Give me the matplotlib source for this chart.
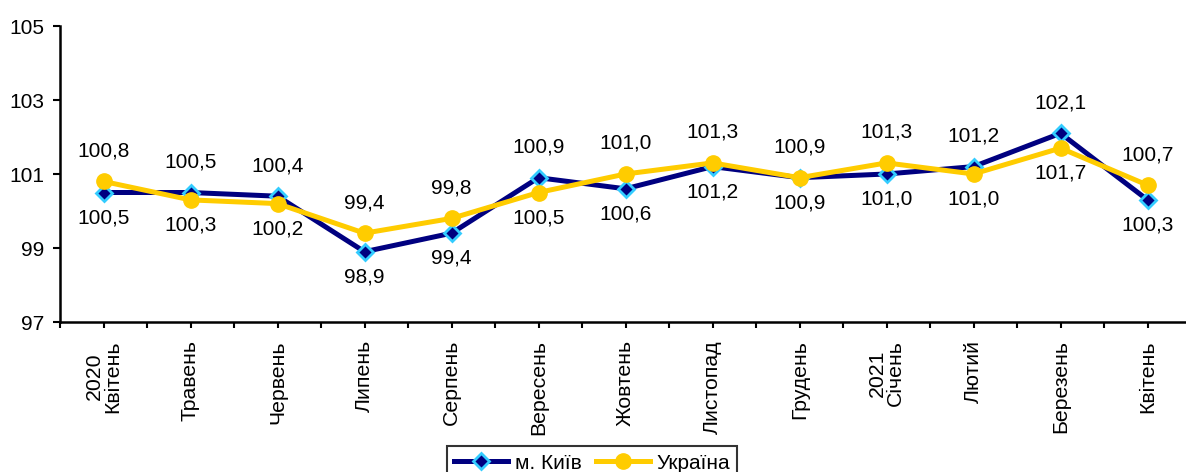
import matplotlib.pyplot as plt
import numpy as np

plt.rcParams['font.family'] = ['Liberation Sans', 'DejaVu Sans']

months = ['2020\nКвітень', 'Травень', 'Червень', 'Липень', 'Серпень', 'Вересень',
          'Жовтень', 'Листопад', 'Грудень', '2021\nСічень', 'Лютий', 'Березень', 'Квітень']
kyiv = [100.5, 100.5, 100.4, 98.9, 99.4, 100.9, 100.6, 101.2, 100.9, 101.0, 101.2, 102.1, 100.3]
ukraine = [100.8, 100.3, 100.2, 99.4, 99.8, 100.5, 101.0, 101.3, 100.9, 101.3, 101.0, 101.7, 100.7]

W, H = 1186, 472
fig = plt.figure(figsize=(W / 100, H / 100), dpi=100)
ax = fig.add_axes([60 / W, 150 / H, 1131 / W, 296 / H])

x = np.arange(len(months))
ax.plot(x, kyiv, color='#000080', lw=3.6, marker='D', ms=8.5,
        mfc='#000080', mec='#33CCFF', mew=2, label='м. Київ', zorder=3)
ax.plot(x, ukraine, color='#FFCC00', lw=3.6, marker='o', ms=11,
        mfc='#FFCC00', mec='#FFCC00', label='Україна', zorder=4)

# підписи: більше значення зверху, менше знизу
for i in range(len(x)):
    k, u = kyiv[i], ukraine[i]
    if k >= u:
        up, dn = k, u
    else:
        up, dn = u, k
    ax.annotate(f'{up:.1f}'.replace('.', ','), (x[i], up), xytext=(0, 22),
                textcoords='offset points', ha='center', va='center', fontsize=15)
    ax.annotate(f'{dn:.1f}'.replace('.', ','), (x[i], dn), xytext=(0, -18),
                textcoords='offset points', ha='center', va='center', fontsize=15)

ax.set_xlim(-0.5, 12.5)
ax.set_ylim(97, 105)
ax.set_yticks([97, 99, 101, 103, 105])
ax.set_xticks(x)
ax.set_xticklabels(months, rotation=90, fontsize=15.3, linespacing=0.95)
ax.set_xticks(np.arange(-0.5, 13, 1), minor=True)
ax.tick_params(axis='y', labelsize=15, direction='out', length=5, width=1.5, pad=6)
ax.tick_params(axis='x', which='both', direction='out', length=4, width=1.5, pad=9)

for s in ['top', 'right']:
    ax.spines[s].set_visible(False)
for s in ['left', 'bottom']:
    ax.spines[s].set_linewidth(1.8)

leg = fig.legend(loc='upper center', bbox_to_anchor=(592 / W, 1 - 436 / H), ncol=2,
                 fontsize=15, frameon=True, fancybox=False, edgecolor='black',
                 numpoints=1, handlelength=2.6, handletextpad=0.3, columnspacing=0.7,
                 borderpad=0.35)
leg.get_frame().set_linewidth(1.5)

fig.savefig('out.png', dpi=100)
